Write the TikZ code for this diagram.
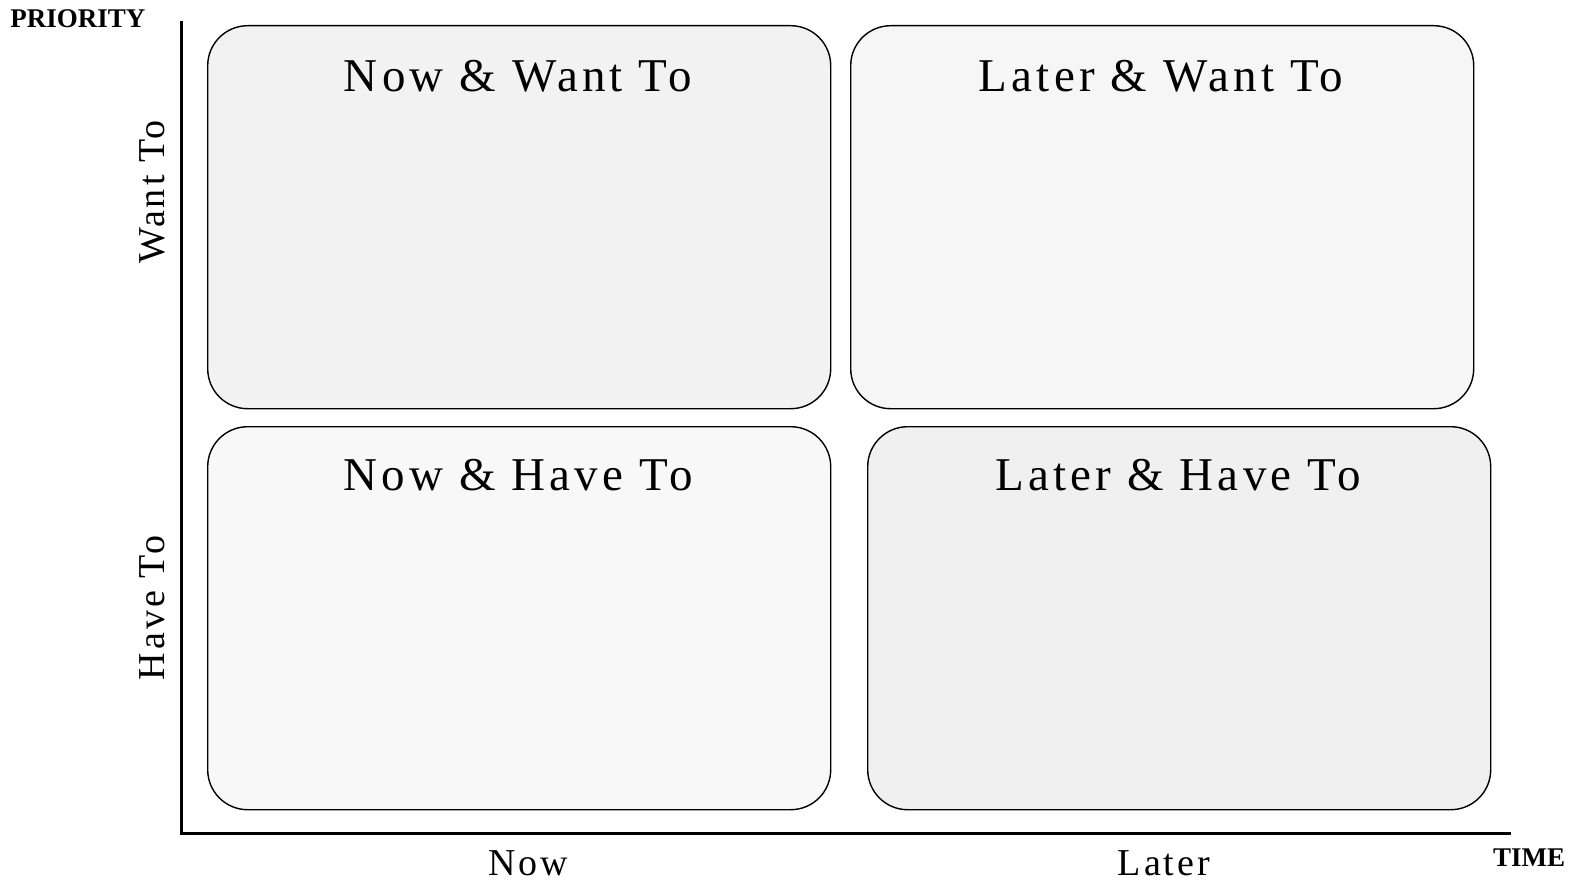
\documentclass[tikz,border=0pt]{standalone}
\usepackage{fontspec}
\setmainfont{Liberation Serif}
\newfontfamily\spaced[LetterSpace=9]{Liberation Serif}
\newfontfamily\spacedax[LetterSpace=8]{Liberation Serif}
\begin{document}
\begin{tikzpicture}[x=1pt,y=-1pt,
  quad/.style={draw=black,line width=1.4pt,rounded corners=40pt,minimum width=623pt,minimum height=383pt,inner sep=0pt,anchor=north west},
  qtitle/.style={anchor=base,font=\spaced\fontsize{47}{52}\selectfont},
  axlabel/.style={anchor=base,font=\spacedax\fontsize{38}{42}\selectfont},
  axtitle/.style={anchor=base,font=\bfseries\fontsize{27}{30}\selectfont},
  axis/.style={line width=3pt}]
\useasboundingbox (0,0) rectangle (1578,883);
% quadrants
\node[quad,fill={rgb,255:red,242;green,242;blue,242}] (tl) at (207,25) {};
\node[quad,fill={rgb,255:red,246;green,246;blue,246}] (tr) at (850,25) {};
\node[quad,fill={rgb,255:red,248;green,248;blue,248}] (bl) at (207,426) {};
\node[quad,fill={rgb,255:red,240;green,240;blue,240}] (br) at (867,426) {};
\node[qtitle] (ttl) at (518,91) {Now \& Want To};
\node[qtitle] (ttr) at (1161,91) {Later \& Want To};
\node[qtitle] (tbl) at (518,490) {Now \& Have To};
\node[qtitle] (tbr) at (1178,490) {Later \& Have To};
% axes
\coordinate (ytop) at (181,21);
\coordinate (origin) at (181,833);
\coordinate (xend) at (1511,833);
\draw[axis] (ytop) -- (origin) -- (xend);
% axis labels
\node[axlabel,rotate=90] (want) at (164,192) {Want To};
\node[axlabel,rotate=90] (have) at (164,608) {Have To};
\node[axlabel] (now) at (528,875) {Now};
\node[axlabel] (later) at (1164,875) {Later};
\node[axtitle] (prio) at (78,28) {PRIORITY};
\node[axtitle] (time) at (1529,866) {TIME};
\end{tikzpicture}
\end{document}
